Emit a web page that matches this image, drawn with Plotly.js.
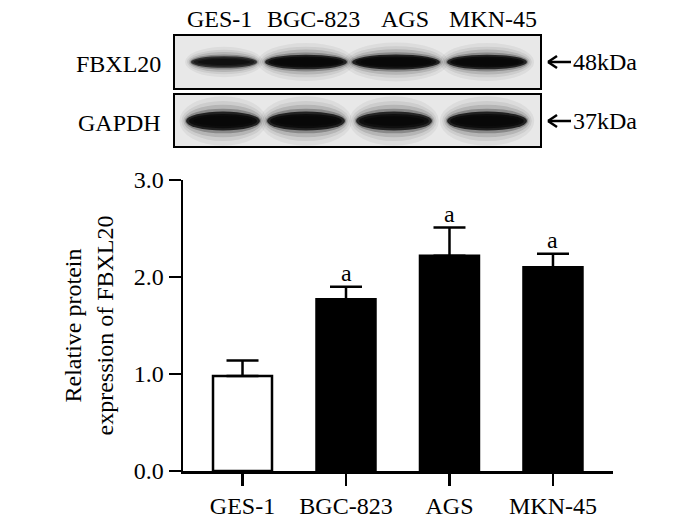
<!DOCTYPE html>
<html>
<head>
<meta charset="utf-8">
<script src="https://cdn.plot.ly/plotly-3.0.1.min.js"></script>
<style>html,body{margin:0;padding:0;background:#fff;}#chart{width:700px;height:519px;}</style>
</head>
<body>
<div id="chart"></div>
<script>
// ---- data ----
const categories = ['GES-1', 'BGC-823', 'AGS', 'MKN-45'];
const means = [0.98, 1.77, 2.22, 2.10];
const errors = [0.16, 0.13, 0.29, 0.14];
const significance = ['', 'a', 'a', 'a'];
const barColors = ['#ffffff', '#000000', '#000000', '#000000'];
const blotRows = ['FBXL20', 'GAPDH'];
const blotSizes = ['48kDa', '37kDa'];
const fbxl20Intensity = [0.6, 0.95, 1.0, 0.95];
const gapdhIntensity = [1.0, 0.95, 0.9, 1.0];

// ---- geometry helpers (pixel -> paper) ----
const L = 183, R = 613, T = 180, B = 471;
const px = x => (x - L) / (R - L);
const py = y => (B - y) / (B - T);
const FONT = 'Liberation Serif, Times New Roman, serif';
const FS = 24;

const shapes = [];
const annotations = [];

// blot panels
const panels = [[35, 89], [94, 147]];
panels.forEach(p => {
  shapes.push({type: 'rect', xref: 'paper', yref: 'paper', x0: px(174), x1: px(541), y0: py(p[0]), y1: py(p[1]),
    line: {color: '#000', width: 2}, fillcolor: '#e8e8e8', layer: 'above'});
});

// bands
const laneX = [[224, 306, 396, 487], [223, 306, 394, 487]];
const laneW = [[66, 82, 88, 80], [74, 78, 76, 80]];
const rowY = [62, 121];
const rowH = [15, 19];
[fbxl20Intensity, gapdhIntensity].forEach((inten, r) => {
  inten.forEach((v, i) => {
    const cx = laneX[r][i], cy = rowY[r], w = laneW[r][i], h = rowH[r] * (r === 0 ? (0.45 + 0.55 * v) : 1);
    const layers = [
      {sw: 1.18, sh: 2.6, op: 0.05},
      {sw: 1.12, sh: 2.1, op: 0.07},
      {sw: 1.07, sh: 1.7, op: 0.12},
      {sw: 1.03, sh: 1.3, op: 0.25},
      {sw: 1.0, sh: 1.0, op: 0.5 + 0.3 * v},
      {sw: 0.92, sh: 0.75, op: 0.85 * v},
      {sw: 0.8, sh: 0.5, op: 0.9 * v}
    ];
    layers.forEach(ly => {
      shapes.push({type: 'circle', xref: 'paper', yref: 'paper',
        x0: px(cx - w * ly.sw / 2), x1: px(cx + w * ly.sw / 2),
        y0: py(cy - h * ly.sh / 2), y1: py(cy + h * ly.sh / 2),
        line: {width: 0}, fillcolor: '#080808', opacity: ly.op, layer: 'above'});
    });
  });
});

// lane labels
const laneLabelX = [219, 313, 405, 493];
categories.forEach((c, i) => {
  annotations.push({text: c, xref: 'paper', yref: 'paper', x: px(laneLabelX[i]), y: py(19),
    xanchor: 'center', yanchor: 'middle', showarrow: false, font: {family: FONT, size: FS, color: '#000'}});
});
// row labels and size markers
blotRows.forEach((r, i) => {
  annotations.push({text: r, xref: 'paper', yref: 'paper', x: px(163), y: py(rowY[i] + 2),
    xanchor: 'right', yanchor: 'middle', showarrow: false, font: {family: FONT, size: FS, color: '#000'}});
  annotations.push({text: blotSizes[i], xref: 'paper', yref: 'paper', x: px(571), y: py(rowY[i]),
    xanchor: 'left', yanchor: 'middle', showarrow: false, font: {family: FONT, size: FS, color: '#000'}});
  const ay = rowY[i];
  shapes.push({type: 'line', xref: 'paper', yref: 'paper', x0: px(548), x1: px(571), y0: py(ay), y1: py(ay), line: {color: '#000', width: 2.5}});
  shapes.push({type: 'line', xref: 'paper', yref: 'paper', x0: px(548), x1: px(557), y0: py(ay), y1: py(ay - 6), line: {color: '#000', width: 2.5}});
  shapes.push({type: 'line', xref: 'paper', yref: 'paper', x0: px(548), x1: px(557), y0: py(ay), y1: py(ay + 6), line: {color: '#000', width: 2.5}});
});

// significance letters
categories.forEach((c, i) => {
  if (significance[i]) {
    annotations.push({text: significance[i], xref: 'x', yref: 'y', x: c, y: means[i] + errors[i],
      xanchor: 'center', yanchor: 'bottom', yshift: -1, showarrow: false, font: {family: FONT, size: FS, color: '#000'}});
  }
});

const trace = {
  type: 'bar', x: categories, y: means, width: 0.57,
  marker: {color: barColors, line: {color: '#000', width: 2.5}},
  error_y: {type: 'data', array: errors, arrayminus: errors.map(() => 0), symmetric: false,
    color: '#000', thickness: 2.5, width: 16, visible: true},
  hoverinfo: 'none'
};

const layout = {
  width: 700, height: 519,
  margin: {l: L, r: 700 - R, t: T, b: 519 - B},
  paper_bgcolor: '#fff', plot_bgcolor: '#fff',
  showlegend: false,
  font: {family: FONT, size: FS, color: '#000'},
  xaxis: {type: 'category', range: [-0.575, 3.58], showline: true, linecolor: '#000', linewidth: 2.5,
    ticks: 'outside', ticklen: 12, tickwidth: 2.5, tickcolor: '#000', showgrid: false, zeroline: false,
    tickfont: {family: FONT, size: FS, color: '#000'}, fixedrange: true},
  yaxis: {range: [0, 3], tickvals: [0, 1, 2, 3], tickformat: '.1f', showline: true, linecolor: '#000', linewidth: 2.5,
    ticks: 'outside', ticklen: 12, tickwidth: 2.5, tickcolor: '#000', showgrid: false, zeroline: false,
    tickfont: {family: FONT, size: FS, color: '#000'}, fixedrange: true,
    title: {text: 'Relative protein<br>expression of FBXL20', font: {family: FONT, size: FS, color: '#000'}, standoff: 14}},
  shapes: shapes,
  annotations: annotations
};

Plotly.newPlot('chart', [trace], layout, {staticPlot: true, displayModeBar: false});
</script>
</body>
</html>
